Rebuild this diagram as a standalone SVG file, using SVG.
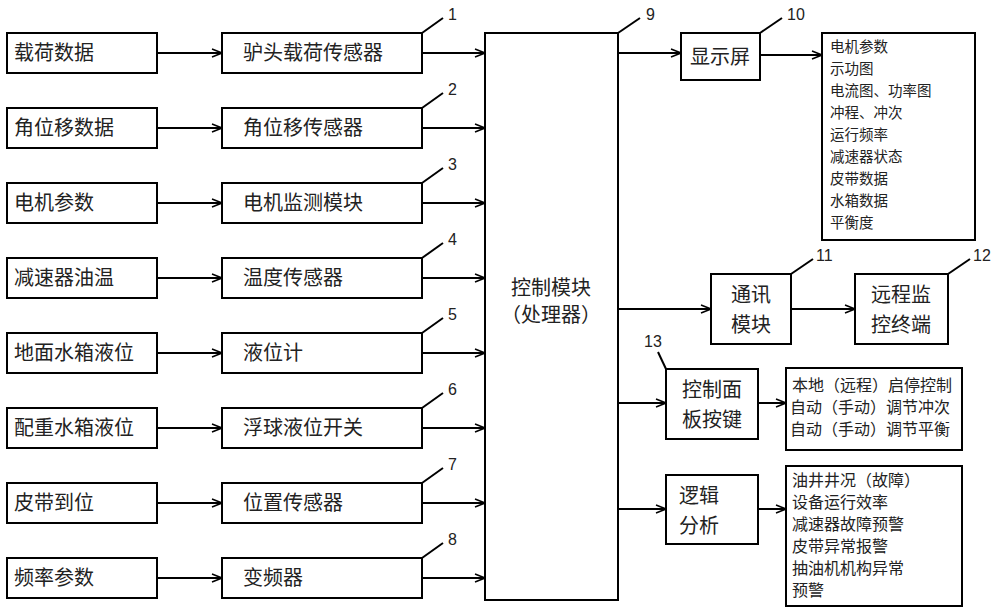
<svg xmlns="http://www.w3.org/2000/svg" width="1000" height="612" viewBox="0 0 1000 612">
<defs>
<style>
rect{fill:#fff;stroke:#000;stroke-width:2}
line,polyline{stroke:#000;stroke-width:2;fill:none}
text{font-family:"Noto Sans CJK SC","Liberation Sans",sans-serif;fill:#222}
.b{font-size:20px}
.s{font-size:14.5px}
.m{font-size:16px}
.n{font-size:16px;font-family:"Liberation Sans",sans-serif}
</style>
<marker id="a" markerWidth="12" markerHeight="10" refX="11" refY="5" orient="auto" markerUnits="userSpaceOnUse">
<polyline points="1,1 11,5 1,9" style="stroke:#000;stroke-width:1.5;fill:none"/>
</marker>
</defs>
<g id="connectors">
<line x1="157" y1="53" x2="222" y2="53" marker-end="url(#a)"/>
<line x1="157" y1="128" x2="222" y2="128" marker-end="url(#a)"/>
<line x1="157" y1="203" x2="222" y2="203" marker-end="url(#a)"/>
<line x1="157" y1="278" x2="222" y2="278" marker-end="url(#a)"/>
<line x1="157" y1="353" x2="222" y2="353" marker-end="url(#a)"/>
<line x1="157" y1="428" x2="222" y2="428" marker-end="url(#a)"/>
<line x1="157" y1="503" x2="222" y2="503" marker-end="url(#a)"/>
<line x1="157" y1="578" x2="222" y2="578" marker-end="url(#a)"/>
<line x1="422" y1="53" x2="485" y2="53" marker-end="url(#a)"/>
<line x1="422" y1="128" x2="485" y2="128" marker-end="url(#a)"/>
<line x1="422" y1="203" x2="485" y2="203" marker-end="url(#a)"/>
<line x1="422" y1="278" x2="485" y2="278" marker-end="url(#a)"/>
<line x1="422" y1="353" x2="485" y2="353" marker-end="url(#a)"/>
<line x1="422" y1="428" x2="485" y2="428" marker-end="url(#a)"/>
<line x1="422" y1="503" x2="485" y2="503" marker-end="url(#a)"/>
<line x1="422" y1="578" x2="485" y2="578" marker-end="url(#a)"/>
<line x1="618" y1="53" x2="681" y2="53" marker-end="url(#a)"/>
<line x1="760" y1="55" x2="822" y2="55" marker-end="url(#a)"/>
<line x1="618" y1="309" x2="711" y2="309" marker-end="url(#a)"/>
<line x1="791" y1="309" x2="855" y2="309" marker-end="url(#a)"/>
<line x1="618" y1="403" x2="666" y2="403" marker-end="url(#a)"/>
<line x1="758" y1="403" x2="786" y2="403" marker-end="url(#a)"/>
<line x1="618" y1="509" x2="666" y2="509" marker-end="url(#a)"/>
<line x1="758" y1="509" x2="786" y2="509" marker-end="url(#a)"/>
<line x1="422" y1="33" x2="443" y2="18"/>
<line x1="422" y1="108" x2="443" y2="93"/>
<line x1="422" y1="183" x2="443" y2="168"/>
<line x1="422" y1="258" x2="443" y2="243"/>
<line x1="422" y1="333" x2="443" y2="318"/>
<line x1="422" y1="408" x2="443" y2="393"/>
<line x1="422" y1="483" x2="443" y2="468"/>
<line x1="422" y1="558" x2="443" y2="543"/>
<line x1="618" y1="33" x2="640" y2="18"/>
<line x1="760" y1="33" x2="782" y2="18"/>
<line x1="791" y1="274" x2="813" y2="259"/>
<line x1="948" y1="274" x2="970" y2="259"/>
<line x1="666" y1="369" x2="658" y2="352"/>
</g>
<g id="labels">
<text class="n" x="448" y="20">1</text>
<text class="n" x="448" y="95">2</text>
<text class="n" x="448" y="170">3</text>
<text class="n" x="448" y="245">4</text>
<text class="n" x="448" y="320">5</text>
<text class="n" x="448" y="395">6</text>
<text class="n" x="448" y="470">7</text>
<text class="n" x="448" y="545">8</text>
<text class="n" x="646" y="20">9</text>
<text class="n" x="787" y="20">10</text>
<text class="n" x="816" y="261">11</text>
<text class="n" x="973" y="261">12</text>
<text class="n" x="644" y="347">13</text>
</g>
<g id="in1"><rect x="7" y="33" width="150" height="40"/><text class="b" x="14" y="60">载荷数据</text></g>
<g id="in2"><rect x="7" y="108" width="150" height="40"/><text class="b" x="14" y="135">角位移数据</text></g>
<g id="in3"><rect x="7" y="183" width="150" height="40"/><text class="b" x="14" y="210">电机参数</text></g>
<g id="in4"><rect x="7" y="258" width="150" height="40"/><text class="b" x="14" y="285">减速器油温</text></g>
<g id="in5"><rect x="7" y="333" width="150" height="40"/><text class="b" x="14" y="360">地面水箱液位</text></g>
<g id="in6"><rect x="7" y="408" width="150" height="40"/><text class="b" x="14" y="435">配重水箱液位</text></g>
<g id="in7"><rect x="7" y="483" width="150" height="40"/><text class="b" x="14" y="510">皮带到位</text></g>
<g id="in8"><rect x="7" y="558" width="150" height="40"/><text class="b" x="14" y="585">频率参数</text></g>
<g id="s1"><rect x="222" y="33" width="200" height="40"/><text class="b" x="243" y="60">驴头载荷传感器</text></g>
<g id="s2"><rect x="222" y="108" width="200" height="40"/><text class="b" x="243" y="135">角位移传感器</text></g>
<g id="s3"><rect x="222" y="183" width="200" height="40"/><text class="b" x="243" y="210">电机监测模块</text></g>
<g id="s4"><rect x="222" y="258" width="200" height="40"/><text class="b" x="243" y="285">温度传感器</text></g>
<g id="s5"><rect x="222" y="333" width="200" height="40"/><text class="b" x="243" y="360">液位计</text></g>
<g id="s6"><rect x="222" y="408" width="200" height="40"/><text class="b" x="243" y="435">浮球液位开关</text></g>
<g id="s7"><rect x="222" y="483" width="200" height="40"/><text class="b" x="243" y="510">位置传感器</text></g>
<g id="s8"><rect x="222" y="558" width="200" height="40"/><text class="b" x="243" y="585">变频器</text></g>
<g id="ctrl"><rect x="485" y="33" width="133" height="567"/><text class="b" x="551" y="295" text-anchor="middle">控制模块</text><text class="b" x="551" y="322" text-anchor="middle">（处理器）</text></g>
<g id="disp"><rect x="681" y="33" width="79" height="47"/><text class="b" x="720" y="64" text-anchor="middle">显示屏</text></g>
<g id="displist"><rect x="822" y="33" width="153" height="207"/>
<text class="s" x="830" y="52">电机参数</text><text class="s" x="830" y="74">示功图</text><text class="s" x="830" y="96">电流图、功率图</text><text class="s" x="830" y="118">冲程、冲次</text><text class="s" x="830" y="140">运行频率</text><text class="s" x="830" y="162">减速器状态</text><text class="s" x="830" y="184">皮带数据</text><text class="s" x="830" y="206">水箱数据</text><text class="s" x="830" y="228">平衡度</text></g>
<g id="comm"><rect x="711" y="274" width="80" height="70"/><text class="b" x="751" y="302" text-anchor="middle">通讯</text><text class="b" x="751" y="332" text-anchor="middle">模块</text></g>
<g id="remote"><rect x="855" y="274" width="93" height="70"/><text class="b" x="901" y="302" text-anchor="middle">远程监</text><text class="b" x="901" y="332" text-anchor="middle">控终端</text></g>
<g id="panel"><rect x="666" y="369" width="92" height="70"/><text class="b" x="712" y="397" text-anchor="middle">控制面</text><text class="b" x="712" y="427" text-anchor="middle">板按键</text></g>
<g id="panellist"><rect x="786" y="368" width="176" height="82"/>
<text class="m" x="792" y="391">本地（远程）启停控制</text><text class="m" x="790" y="413">自动（手动）调节冲次</text><text class="m" x="790" y="435">自动（手动）调节平衡</text></g>
<g id="logic"><rect x="666" y="475" width="92" height="69"/><text class="b" x="679" y="503">逻辑</text><text class="b" x="679" y="533">分析</text></g>
<g id="logiclist"><rect x="786" y="466" width="176" height="140"/>
<text class="m" x="792" y="486">油井井况（故障）</text><text class="m" x="792" y="508">设备运行效率</text><text class="m" x="792" y="530">减速器故障预警</text><text class="m" x="792" y="552">皮带异常报警</text><text class="m" x="792" y="574">抽油机机构异常</text><text class="m" x="792" y="596">预警</text></g>
</svg>
